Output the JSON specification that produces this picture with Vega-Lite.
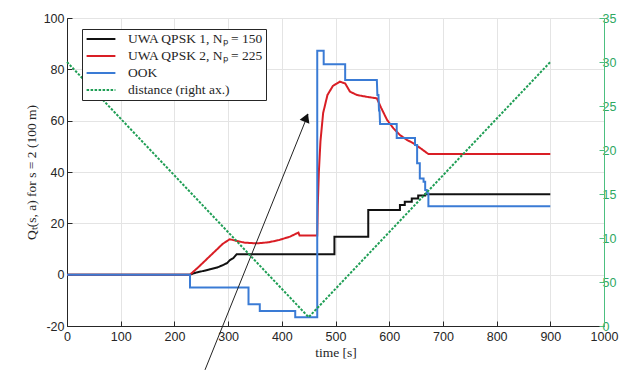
{
  "$schema": "https://vega.github.io/schema/vega-lite/v6.json",
  "width": 537,
  "height": 308,
  "autosize": "none",
  "padding": {"left": 67, "top": 18, "right": 19, "bottom": 44},
  "background": "white",
  "config": {
    "view": {"stroke": "#262626", "strokeWidth": 1},
    "axis": {
      "labelFont": "Liberation Sans",
      "labelFontSize": 12.5,
      "labelColor": "#262626",
      "titleFont": "Liberation Serif",
      "titleFontSize": 13.5,
      "titleFontWeight": "normal",
      "titleColor": "#262626",
      "gridColor": "#e4e4e4",
      "domainColor": "#262626",
      "tickColor": "#262626",
      "tickSize": -5
    },
    "legend": {
      "orient": "none",
      "legendX": 15,
      "legendY": 11,
      "strokeColor": "#262626",
      "fillColor": "white",
      "padding": 3,
      "labelFont": "Liberation Serif",
      "labelFontSize": 13.5,
      "labelColor": "#262626",
      "labelLimit": 400,
      "labelOffset": 20,
      "symbolOffset": 9,
      "symbolType": "M-2.4,0H2.4",
      "symbolSize": 144,
      "symbolStrokeWidth": 2,
      "rowPadding": 3
    }
  },
  "datasets": {
    "series": [
      {"series": "UWA QPSK 1, Nₚ = 150", "time": 0, "value": 0},
      {"series": "UWA QPSK 1, Nₚ = 150", "time": 229, "value": 0},
      {"series": "UWA QPSK 1, Nₚ = 150", "time": 240, "value": 0.8},
      {"series": "UWA QPSK 1, Nₚ = 150", "time": 255, "value": 1.5},
      {"series": "UWA QPSK 1, Nₚ = 150", "time": 266, "value": 2.1},
      {"series": "UWA QPSK 1, Nₚ = 150", "time": 280, "value": 2.8},
      {"series": "UWA QPSK 1, Nₚ = 150", "time": 291, "value": 3.8},
      {"series": "UWA QPSK 1, Nₚ = 150", "time": 298, "value": 4.5},
      {"series": "UWA QPSK 1, Nₚ = 150", "time": 303.5, "value": 5.7},
      {"series": "UWA QPSK 1, Nₚ = 150", "time": 310, "value": 6.5},
      {"series": "UWA QPSK 1, Nₚ = 150", "time": 316, "value": 8.0},
      {"series": "UWA QPSK 1, Nₚ = 150", "time": 498, "value": 8.0},
      {"series": "UWA QPSK 1, Nₚ = 150", "time": 498, "value": 14.8},
      {"series": "UWA QPSK 1, Nₚ = 150", "time": 561, "value": 14.8},
      {"series": "UWA QPSK 1, Nₚ = 150", "time": 561, "value": 25.2},
      {"series": "UWA QPSK 1, Nₚ = 150", "time": 620, "value": 25.2},
      {"series": "UWA QPSK 1, Nₚ = 150", "time": 620, "value": 27.1},
      {"series": "UWA QPSK 1, Nₚ = 150", "time": 629, "value": 27.1},
      {"series": "UWA QPSK 1, Nₚ = 150", "time": 629, "value": 28.4},
      {"series": "UWA QPSK 1, Nₚ = 150", "time": 642, "value": 28.4},
      {"series": "UWA QPSK 1, Nₚ = 150", "time": 642, "value": 29.7},
      {"series": "UWA QPSK 1, Nₚ = 150", "time": 654, "value": 29.7},
      {"series": "UWA QPSK 1, Nₚ = 150", "time": 654, "value": 30.8},
      {"series": "UWA QPSK 1, Nₚ = 150", "time": 667, "value": 30.8},
      {"series": "UWA QPSK 1, Nₚ = 150", "time": 667, "value": 31.3},
      {"series": "UWA QPSK 1, Nₚ = 150", "time": 900, "value": 31.3},

      {"series": "UWA QPSK 2, Nₚ = 225", "time": 0, "value": 0},
      {"series": "UWA QPSK 2, Nₚ = 225", "time": 229, "value": 0},
      {"series": "UWA QPSK 2, Nₚ = 225", "time": 245, "value": 3},
      {"series": "UWA QPSK 2, Nₚ = 225", "time": 260, "value": 6},
      {"series": "UWA QPSK 2, Nₚ = 225", "time": 275, "value": 9},
      {"series": "UWA QPSK 2, Nₚ = 225", "time": 290, "value": 12},
      {"series": "UWA QPSK 2, Nₚ = 225", "time": 303, "value": 13.8},
      {"series": "UWA QPSK 2, Nₚ = 225", "time": 315, "value": 13.2},
      {"series": "UWA QPSK 2, Nₚ = 225", "time": 330, "value": 12.5},
      {"series": "UWA QPSK 2, Nₚ = 225", "time": 353, "value": 12.2},
      {"series": "UWA QPSK 2, Nₚ = 225", "time": 375, "value": 12.6},
      {"series": "UWA QPSK 2, Nₚ = 225", "time": 395, "value": 13.5},
      {"series": "UWA QPSK 2, Nₚ = 225", "time": 415, "value": 14.8},
      {"series": "UWA QPSK 2, Nₚ = 225", "time": 431, "value": 16.4},
      {"series": "UWA QPSK 2, Nₚ = 225", "time": 433, "value": 15.3},
      {"series": "UWA QPSK 2, Nₚ = 225", "time": 466, "value": 15.3},
      {"series": "UWA QPSK 2, Nₚ = 225", "time": 467, "value": 27},
      {"series": "UWA QPSK 2, Nₚ = 225", "time": 469, "value": 40},
      {"series": "UWA QPSK 2, Nₚ = 225", "time": 472, "value": 52},
      {"series": "UWA QPSK 2, Nₚ = 225", "time": 477, "value": 63},
      {"series": "UWA QPSK 2, Nₚ = 225", "time": 485, "value": 70},
      {"series": "UWA QPSK 2, Nₚ = 225", "time": 495, "value": 73.5},
      {"series": "UWA QPSK 2, Nₚ = 225", "time": 508, "value": 75.2},
      {"series": "UWA QPSK 2, Nₚ = 225", "time": 518, "value": 74.5},
      {"series": "UWA QPSK 2, Nₚ = 225", "time": 527, "value": 71.3},
      {"series": "UWA QPSK 2, Nₚ = 225", "time": 540, "value": 70},
      {"series": "UWA QPSK 2, Nₚ = 225", "time": 558, "value": 69.3},
      {"series": "UWA QPSK 2, Nₚ = 225", "time": 577, "value": 68.7},
      {"series": "UWA QPSK 2, Nₚ = 225", "time": 585, "value": 65},
      {"series": "UWA QPSK 2, Nₚ = 225", "time": 596, "value": 60.3},
      {"series": "UWA QPSK 2, Nₚ = 225", "time": 608, "value": 57},
      {"series": "UWA QPSK 2, Nₚ = 225", "time": 620, "value": 54.4},
      {"series": "UWA QPSK 2, Nₚ = 225", "time": 633, "value": 52.5},
      {"series": "UWA QPSK 2, Nₚ = 225", "time": 645, "value": 51.2},
      {"series": "UWA QPSK 2, Nₚ = 225", "time": 660, "value": 49},
      {"series": "UWA QPSK 2, Nₚ = 225", "time": 673, "value": 47},
      {"series": "UWA QPSK 2, Nₚ = 225", "time": 900, "value": 47},

      {"series": "OOK", "time": 0, "value": 0},
      {"series": "OOK", "time": 229, "value": 0},
      {"series": "OOK", "time": 229, "value": -5},
      {"series": "OOK", "time": 338, "value": -5},
      {"series": "OOK", "time": 338, "value": -11.5},
      {"series": "OOK", "time": 359, "value": -11.5},
      {"series": "OOK", "time": 359, "value": -14.2},
      {"series": "OOK", "time": 425, "value": -14.2},
      {"series": "OOK", "time": 425, "value": -16.6},
      {"series": "OOK", "time": 466, "value": -16.6},
      {"series": "OOK", "time": 466, "value": 87.2},
      {"series": "OOK", "time": 478, "value": 87.2},
      {"series": "OOK", "time": 478, "value": 82},
      {"series": "OOK", "time": 518, "value": 82},
      {"series": "OOK", "time": 518, "value": 75.8},
      {"series": "OOK", "time": 577, "value": 75.8},
      {"series": "OOK", "time": 578, "value": 70},
      {"series": "OOK", "time": 580, "value": 70},
      {"series": "OOK", "time": 581, "value": 64},
      {"series": "OOK", "time": 582, "value": 64},
      {"series": "OOK", "time": 583, "value": 58.7},
      {"series": "OOK", "time": 614, "value": 58.7},
      {"series": "OOK", "time": 614, "value": 53.2},
      {"series": "OOK", "time": 648, "value": 53.2},
      {"series": "OOK", "time": 648, "value": 50.5},
      {"series": "OOK", "time": 652, "value": 50.5},
      {"series": "OOK", "time": 652, "value": 43.4},
      {"series": "OOK", "time": 657, "value": 43.4},
      {"series": "OOK", "time": 657, "value": 37.5},
      {"series": "OOK", "time": 664, "value": 37.5},
      {"series": "OOK", "time": 664, "value": 36.2},
      {"series": "OOK", "time": 667, "value": 36.2},
      {"series": "OOK", "time": 667, "value": 33},
      {"series": "OOK", "time": 670, "value": 33},
      {"series": "OOK", "time": 670, "value": 31.7},
      {"series": "OOK", "time": 673, "value": 31.7},
      {"series": "OOK", "time": 673, "value": 26.7},
      {"series": "OOK", "time": 900, "value": 26.7}
    ],
    "distance": [
      {"series": "distance (right ax.)", "time": 0, "dist": 30},
      {"series": "distance (right ax.)", "time": 450, "dist": 1},
      {"series": "distance (right ax.)", "time": 900, "dist": 30}
    ],
    "arrow": [
      {"t1": 257, "v1": -37.1, "t2": 449, "v2": 62.5}
    ],
    "arrowhead": [
      {"time": 445.5, "value": 61.2}
    ]
  },
  "layer": [
    {
      "layer": [
        {
          "data": {"name": "series"},
          "mark": {"type": "line", "strokeWidth": 2, "strokeJoin": "miter"},
          "encoding": {
            "x": {"field": "time", "type": "quantitative", "title": "time [s]",
              "scale": {"domain": [0, 1000], "nice": false},
              "axis": {"values": [0,100,200,300,400,500,600,700,800,900,1000], "format": "d", "labelPadding": 9, "titlePadding": 3, "labelFlush": false}},
            "y": {"field": "value", "type": "quantitative", "title": "Qₜ(s, a) for s = 2 (100 m)",
              "scale": {"domain": [-20, 100], "nice": false, "zero": false},
              "axis": {"values": [-20,0,20,40,60,80,100], "labelExpr": "datum.value + ''", "labelPadding": 8, "titlePadding": 5}},
            "color": {"field": "series", "type": "nominal", "title": null,
              "scale": {"domain": ["UWA QPSK 1, Nₚ = 150", "UWA QPSK 2, Nₚ = 225", "OOK", "distance (right ax.)"],
                        "range": ["#111111", "#d91e25", "#3a7bd5", "#1f9e55"]}},
            "strokeDash": {"field": "series", "type": "nominal", "title": null,
              "scale": {"domain": ["UWA QPSK 1, Nₚ = 150", "UWA QPSK 2, Nₚ = 225", "OOK", "distance (right ax.)"],
                        "range": [[1, 0], [1, 0], [1, 0], [2.5, 1.5]]}},
            "order": {"field": "time"}
          }
        },
        {
          "data": {"name": "arrow"},
          "mark": {"type": "rule", "color": "#222222", "strokeWidth": 1},
          "encoding": {
            "x": {"field": "t1", "type": "quantitative"},
            "y": {"field": "v1", "type": "quantitative"},
            "x2": {"field": "t2"},
            "y2": {"field": "v2"}
          }
        },
        {
          "data": {"name": "arrowhead"},
          "mark": {"type": "point", "shape": "triangle-up", "filled": true, "color": "#111111", "size": 110, "angle": 22, "opacity": 1},
          "encoding": {
            "x": {"field": "time", "type": "quantitative"},
            "y": {"field": "value", "type": "quantitative"}
          }
        }
      ]
    },
    {
      "data": {"name": "distance"},
      "mark": {"type": "line", "strokeWidth": 2},
      "encoding": {
        "x": {"field": "time", "type": "quantitative"},
        "y": {"field": "dist", "type": "quantitative",
          "scale": {"domain": [0, 35], "nice": false},
          "axis": {"orient": "right", "title": null, "grid": false,
                   "values": [0,5,10,15,20,25,30,35],
                   "labelExpr": "datum.value == 5 ? '50' : datum.label",
                   "domainColor": "#4cbf80", "tickColor": "#4cbf80", "labelColor": "#2fa862", "labelPadding": 3}},
        "color": {"field": "series", "type": "nominal", "title": null,
          "scale": {"domain": ["UWA QPSK 1, Nₚ = 150", "UWA QPSK 2, Nₚ = 225", "OOK", "distance (right ax.)"],
                    "range": ["#111111", "#d91e25", "#3a7bd5", "#1f9e55"]}},
        "strokeDash": {"field": "series", "type": "nominal", "title": null,
          "scale": {"domain": ["UWA QPSK 1, Nₚ = 150", "UWA QPSK 2, Nₚ = 225", "OOK", "distance (right ax.)"],
                    "range": [[1, 0], [1, 0], [1, 0], [2.5, 1.5]]}}
      }
    }
  ],
  "resolve": {"scale": {"y": "independent"}}
}
